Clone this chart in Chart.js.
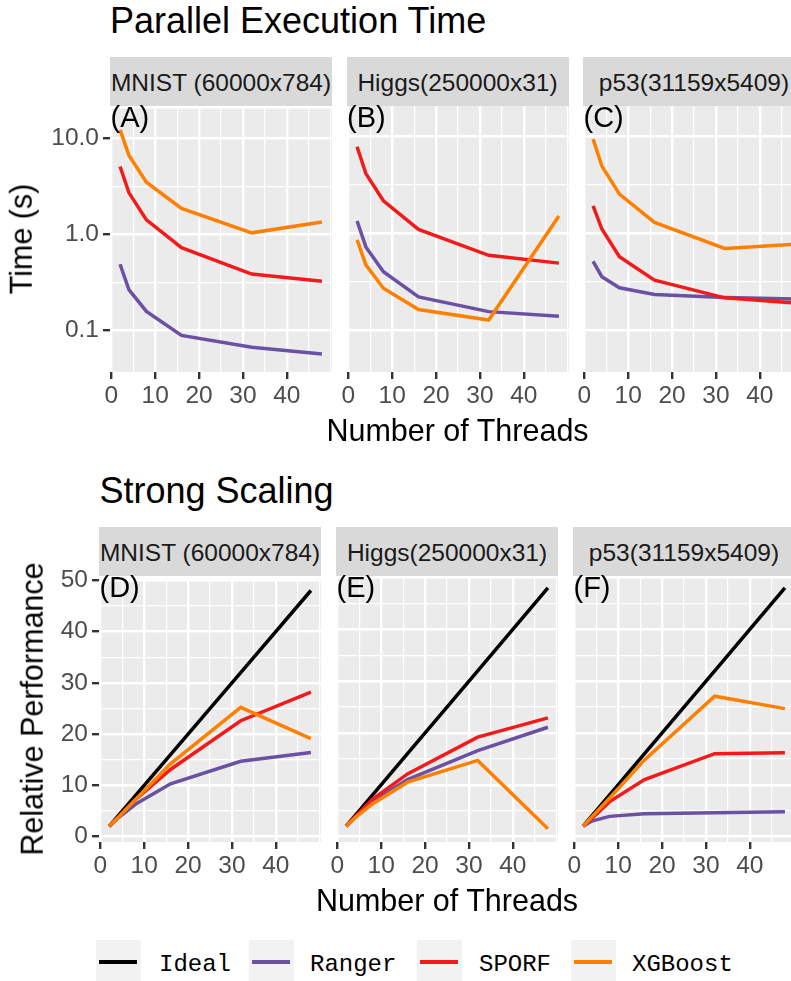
<!DOCTYPE html>
<html>
<head>
<meta charset="utf-8">
<script src="https://cdn.jsdelivr.net/npm/chart.js@4.4.1/dist/chart.umd.min.js"></script>
<style>
html, body { margin: 0; padding: 0; background: #fff; width: 791px; height: 981px; overflow: hidden; }
#page { position: relative; width: 791px; height: 981px; overflow: hidden; font-family: "Liberation Sans", Arial, sans-serif; color: #000; }
.txt { position: absolute; white-space: nowrap; }
.strip { position: absolute; background: #D9D9D9; color: #1A1A1A; font-size: 24.5px; text-align: center; white-space: nowrap; height: 49px; line-height: 52px; }
.key { position: absolute; width: 45px; height: 41px; background: #F2F2F2; }
.key div { position: absolute; left: 3px; width: 38px; top: 20px; height: 4px; }
canvas { position: absolute; }
</style>
</head>
<body>
<div id="page"></div>
<script>
const threads = [2, 4, 8, 16, 32, 48];
const threadTicks = [0, 10, 20, 30, 40];
const threadMinor = [5, 15, 25, 35, 45, 50];
const timeTicks = [0.1, 1, 10];
const timeMinor = [0.316, 3.16];
const perfTicks = [0, 10, 20, 30, 40, 50];
const perfMinor = [5, 15, 25, 35, 45];
const dataNames = ['MNIST (60000x784)', 'Higgs(250000x31)', 'p53(31159x5409)'];
const methods = ['Ideal', 'Ranger', 'SPORF', 'XGBoost'];

// time in seconds, one value per thread count
const mnistTimeRanger = [0.49, 0.267, 0.158, 0.089, 0.067, 0.057];
const mnistTimeSporf = [5.1, 2.73, 1.42, 0.73, 0.387, 0.326];
const mnistTimeXgb = [12.3, 6.7, 3.5, 1.87, 1.04, 1.35];
const higgsTimeRanger = [1.33, 0.72, 0.40, 0.22, 0.155, 0.139];
const higgsTimeSporf = [7.76, 4.1, 2.15, 1.09, 0.59, 0.49];
const higgsTimeXgb = [0.85, 0.47, 0.27, 0.163, 0.127, 1.5];
const p53TimeRanger = [0.51, 0.355, 0.273, 0.233, 0.217, 0.209];
const p53TimeSporf = [1.91, 1.1, 0.57, 0.327, 0.215, 0.19];
const p53TimeXgb = [9.3, 4.9, 2.52, 1.29, 0.695, 0.765];

// relative performance
const ideal = [2, 4, 8, 16, 32, 48];
const mnistPerfRanger = [2, 3.6, 6.3, 10.3, 14.7, 16.4];
const mnistPerfSporf = [2, 3.7, 7.2, 13.1, 22.6, 28.2];
const mnistPerfXgb = [2, 3.7, 7.2, 14.2, 25.2, 19.1];
const higgsPerfRanger = [2, 3.7, 6.8, 11.0, 16.6, 21.1];
const higgsPerfSporf = [2, 3.8, 7.2, 12.1, 19.2, 22.9];
const higgsPerfXgb = [2, 3.6, 6.3, 10.5, 14.7, 1.5];
const p53PerfRanger = [2, 3.0, 3.9, 4.4, 4.6, 4.8];
const p53PerfSporf = [2, 3.5, 6.7, 11.0, 16.0, 16.2];
const p53PerfXgb = [2, 3.8, 7.4, 14.8, 27.1, 24.7];

const lineColors = { Ideal: '#000000', Ranger: '#6A51A3', SPORF: '#F21A1A', XGBoost: '#FF8000' };
const drawOrder = { Ideal: 4, Ranger: 3, SPORF: 2, XGBoost: 1 };

const FONT = '"Liberation Sans", Arial, sans-serif';
const PAD = 16;
const PANEL_W = 222, PANEL_H = 266, XAXIS_H = 42;
const page = document.getElementById('page');

const panelBg = {
    id: 'panelBg',
    beforeDraw(chart) {
        const a = chart.chartArea;
        const ctx = chart.ctx;
        ctx.save();
        ctx.fillStyle = '#EBEBEB';
        ctx.fillRect(a.left, a.top, a.right - a.left, a.bottom - a.top);
        ctx.restore();
    }
};

function makeLine(name, ys) {
    return {
        label: name,
        data: threads.map((t, i) => ({ x: t, y: ys[i] })),
        borderColor: lineColors[name],
        borderWidth: 3.5,
        pointRadius: 0,
        tension: 0,
        fill: false,
        order: drawOrder[name]
    };
}

function addText(str, x, baseline, size, align, extra) {
    const d = document.createElement('div');
    d.className = 'txt';
    d.textContent = str;
    d.style.fontSize = size + 'px';
    d.style.lineHeight = size + 'px';
    d.style.top = (baseline - 0.8465 * size) + 'px';
    d.style.left = x + 'px';
    if (align === 'center') d.style.transform = 'translateX(-50%)';
    if (extra) Object.assign(d.style, extra);
    page.appendChild(d);
    return d;
}

function addVText(str, baselineX, cy, size) {
    const d = document.createElement('div');
    d.className = 'txt';
    d.textContent = str;
    d.style.fontSize = size + 'px';
    d.style.lineHeight = size + 'px';
    d.style.left = (baselineX - 0.3465 * size) + 'px';
    d.style.top = cy + 'px';
    d.style.transform = 'translate(-50%, -50%) rotate(-90deg)';
    page.appendChild(d);
}

function createPanel(p) {
    const canvas = document.createElement('canvas');
    const w = PAD + p.axisW + PANEL_W + PAD;
    const h = PAD + PANEL_H + XAXIS_H;
    canvas.width = w;
    canvas.height = h;
    canvas.style.width = w + 'px';
    canvas.style.height = h + 'px';
    canvas.style.left = (p.left - p.axisW - PAD) + 'px';
    canvas.style.top = (p.top - PAD) + 'px';
    page.appendChild(canvas);

    const strip = document.createElement('div');
    strip.className = 'strip';
    strip.textContent = p.name;
    strip.style.left = p.left + 'px';
    strip.style.top = (p.top - 49) + 'px';
    strip.style.width = PANEL_W + 'px';
    page.appendChild(strip);

    const showY = p.axisW > 0;
    new Chart(canvas.getContext('2d'), {
        type: 'line',
        data: { datasets: p.series.map(s => makeLine(s[0], s[1])) },
        options: {
            responsive: false,
            animation: false,
            devicePixelRatio: 1,
            layout: { padding: { left: PAD, right: PAD, top: PAD, bottom: 0 } },
            plugins: { legend: { display: false }, tooltip: { enabled: false } },
            scales: {
                x: {
                    type: 'linear',
                    min: -0.3,
                    max: 50.3,
                    afterBuildTicks: s => {
                        s.ticks = threadTicks.concat(threadMinor).sort((a, b) => a - b).map(v => ({ value: v }));
                    },
                    afterFit: s => { s.height = XAXIS_H; },
                    border: { display: false },
                    grid: {
                        color: '#FFFFFF',
                        lineWidth: c => threadTicks.includes(c.tick.value) ? 2.4 : 1.2,
                        tickLength: 7,
                        tickWidth: 2.4,
                        tickColor: c => threadTicks.includes(c.tick.value) ? '#333333' : 'rgba(0,0,0,0)'
                    },
                    ticks: {
                        autoSkip: false,
                        maxRotation: 0,
                        padding: 3,
                        color: '#4D4D4D',
                        font: { family: FONT, size: 24.5 },
                        callback: v => threadTicks.includes(v) ? String(v) : ''
                    }
                },
                y: {
                    type: p.yType,
                    min: p.yMin,
                    max: p.yMax,
                    afterBuildTicks: s => {
                        s.ticks = p.yMajor.concat(p.yMinor).sort((a, b) => a - b).map(v => ({ value: v }));
                    },
                    afterFit: s => { s.width = p.axisW; },
                    border: { display: false },
                    grid: {
                        color: '#FFFFFF',
                        lineWidth: c => p.yMajor.includes(c.tick.value) ? 2.4 : 1.2,
                        drawTicks: showY,
                        tickLength: 7,
                        tickWidth: 2.4,
                        tickColor: c => p.yMajor.includes(c.tick.value) ? '#333333' : 'rgba(0,0,0,0)'
                    },
                    ticks: {
                        display: showY,
                        autoSkip: false,
                        padding: 4,
                        color: '#4D4D4D',
                        font: { family: FONT, size: 24.5 },
                        callback: v => p.yMajor.includes(v) ? p.yFormat(v) : ''
                    }
                }
            }
        },
        plugins: [panelBg]
    });

    addText(p.letter, p.left + 0.5, p.top + 0.7 + 0.728 * 29, 29, 'left');
}

const timeSeries = [
    [['Ranger', mnistTimeRanger], ['SPORF', mnistTimeSporf], ['XGBoost', mnistTimeXgb]],
    [['Ranger', higgsTimeRanger], ['SPORF', higgsTimeSporf], ['XGBoost', higgsTimeXgb]],
    [['Ranger', p53TimeRanger], ['SPORF', p53TimeSporf], ['XGBoost', p53TimeXgb]]
];
const perfSeries = [
    [['Ideal', ideal], ['Ranger', mnistPerfRanger], ['SPORF', mnistPerfSporf], ['XGBoost', mnistPerfXgb]],
    [['Ideal', ideal], ['Ranger', higgsPerfRanger], ['SPORF', higgsPerfSporf], ['XGBoost', higgsPerfXgb]],
    [['Ideal', ideal], ['Ranger', p53PerfRanger], ['SPORF', p53PerfSporf], ['XGBoost', p53PerfXgb]]
];

const topLefts = [110, 346.5, 583];
const bottomLefts = [99, 336, 573];

// top row: execution time (log scale)
addText('Parallel Execution Time', 110, 33.5, 36, 'left');
['(A)', '(B)', '(C)'].forEach((letter, i) => {
    createPanel({
        letter: letter, name: dataNames[i], left: topLefts[i], top: 106,
        axisW: i === 0 ? 110 : 0,
        series: timeSeries[i],
        yType: 'logarithmic', yMin: 0.037, yMax: 20.4,
        yMajor: timeTicks, yMinor: timeMinor,
        yFormat: v => v.toFixed(1)
    });
});
addVText('Time (s)', 32, 239, 30.5);
addText('Number of Threads', 457.5, 441, 30.5, 'center');

// bottom row: relative performance
addText('Strong Scaling', 99.5, 503.5, 36, 'left');
['(D)', '(E)', '(F)'].forEach((letter, i) => {
    createPanel({
        letter: letter, name: dataNames[i], left: bottomLefts[i], top: 576,
        axisW: i === 0 ? 99 : 0,
        series: perfSeries[i],
        yType: 'linear', yMin: -1.05, yMax: 50.3,
        yMajor: perfTicks, yMinor: perfMinor,
        yFormat: v => String(v)
    });
});
addVText('Relative Performance', 43, 709, 30.5);
addText('Number of Threads', 447, 910.5, 30.5, 'center');

// legend
const keyLefts = [96, 249, 417, 571];
const labelLefts = [159, 310, 479, 632];
methods.forEach((m, i) => {
    const k = document.createElement('div');
    k.className = 'key';
    k.style.left = keyLefts[i] + 'px';
    k.style.top = '940px';
    const bar = document.createElement('div');
    bar.style.background = lineColors[m];
    k.appendChild(bar);
    page.appendChild(k);
    const t = addText(m, labelLefts[i], 971.7, 24, 'left', { fontFamily: '"Liberation Mono", "Courier New", monospace' });
    t.style.top = (971.7 - 0.7665 * 24) + 'px';
});
</script>
</body>
</html>
